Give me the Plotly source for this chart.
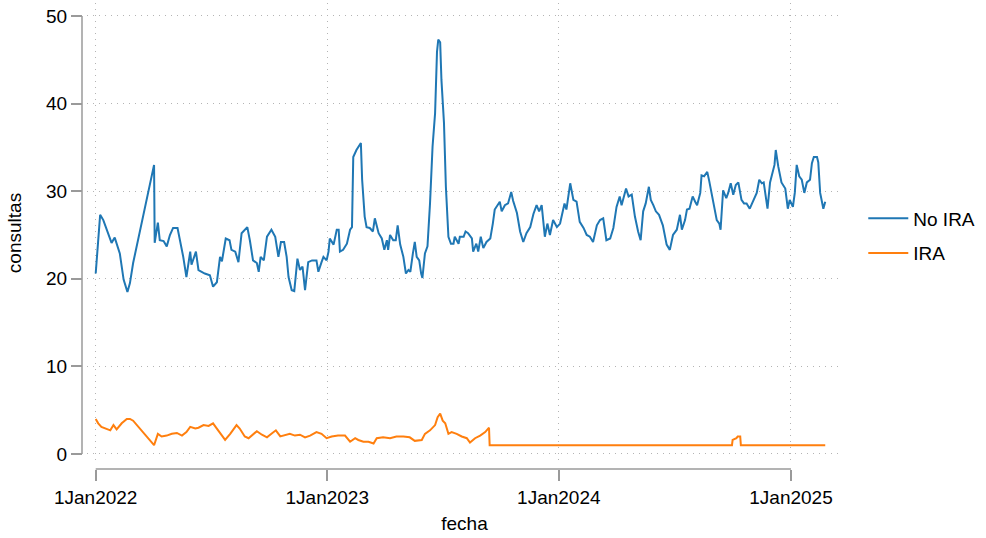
import plotly.graph_objects as go

# ---------------- data ----------------
no_ira_dates = [
    "2022-01-01", "2022-01-08", "2022-01-13", "2022-01-18", "2022-01-21", "2022-01-26", "2022-01-31",
    "2022-02-06", "2022-02-08", "2022-02-14", "2022-02-20", "2022-02-24",
    "2022-03-01",
    "2022-04-03", "2022-04-04", "2022-04-09", "2022-04-12", "2022-04-18", "2022-04-23", "2022-04-28",
    "2022-05-03", "2022-05-10", "2022-05-14", "2022-05-19", "2022-05-24", "2022-05-30",
    "2022-06-01", "2022-06-08", "2022-06-12", "2022-06-17", "2022-06-22", "2022-06-30",
    "2022-07-05", "2022-07-11", "2022-07-16", "2022-07-19", "2022-07-25", "2022-07-31",
    "2022-08-03", "2022-08-09", "2022-08-14", "2022-08-19", "2022-08-24", "2022-08-28",
    "2022-09-01", "2022-09-06", "2022-09-12", "2022-09-15", "2022-09-18", "2022-09-23", "2022-09-28",
    "2022-10-05", "2022-10-11", "2022-10-16", "2022-10-20", "2022-10-25", "2022-10-29",
    "2022-11-01", "2022-11-06", "2022-11-10", "2022-11-15", "2022-11-19", "2022-11-23", "2022-11-27",
    "2022-12-02", "2022-12-08", "2022-12-15", "2022-12-18", "2022-12-23", "2022-12-26", "2022-12-31",
    "2023-01-03", "2023-01-05", "2023-01-11", "2023-01-16", "2023-01-19", "2023-01-21", "2023-01-26",
    "2023-02-01", "2023-02-06", "2023-02-09", "2023-02-11", "2023-02-16", "2023-02-21", "2023-02-23", "2023-02-25",
    "2023-03-01", "2023-03-04", "2023-03-09", "2023-03-14", "2023-03-17", "2023-03-23", "2023-03-28",
    "2023-04-01", "2023-04-05", "2023-04-07", "2023-04-10", "2023-04-15", "2023-04-19", "2023-04-22", "2023-04-26",
    "2023-05-01", "2023-05-05", "2023-05-09", "2023-05-12", "2023-05-16", "2023-05-19", "2023-05-22", "2023-05-26", "2023-05-29", "2023-05-31",
    "2023-06-04", "2023-06-08", "2023-06-12", "2023-06-16", "2023-06-20", "2023-06-23", "2023-06-25", "2023-06-28", "2023-06-30",
    "2023-07-04", "2023-07-07", "2023-07-11", "2023-07-15", "2023-07-19", "2023-07-21", "2023-07-27", "2023-07-29",
    "2023-08-04", "2023-08-07", "2023-08-11", "2023-08-17", "2023-08-19", "2023-08-24", "2023-08-27", "2023-08-31",
    "2023-09-04", "2023-09-09", "2023-09-15", "2023-09-19", "2023-09-22", "2023-09-30",
    "2023-10-03", "2023-10-08", "2023-10-13", "2023-10-18", "2023-10-21", "2023-10-27",
    "2023-11-01", "2023-11-06", "2023-11-11", "2023-11-17", "2023-11-22", "2023-11-27",
    "2023-12-01", "2023-12-05", "2023-12-10", "2023-12-14", "2023-12-18", "2023-12-23", "2023-12-29",
    "2024-01-03", "2024-01-10", "2024-01-13", "2024-01-19", "2024-01-24", "2024-01-29",
    "2024-02-03", "2024-02-09", "2024-02-14", "2024-02-19", "2024-02-24",
    "2024-03-01", "2024-03-06", "2024-03-11", "2024-03-16", "2024-03-22", "2024-03-27",
    "2024-04-01", "2024-04-06", "2024-04-09", "2024-04-16", "2024-04-20", "2024-04-25", "2024-04-30",
    "2024-05-05", "2024-05-09", "2024-05-13", "2024-05-17", "2024-05-22", "2024-05-25", "2024-05-29",
    "2024-06-02", "2024-06-07", "2024-06-13", "2024-06-19", "2024-06-24", "2024-06-29",
    "2024-07-05", "2024-07-10", "2024-07-13", "2024-07-18", "2024-07-21", "2024-07-25", "2024-07-30",
    "2024-08-03", "2024-08-06", "2024-08-11", "2024-08-13", "2024-08-17", "2024-08-22", "2024-08-25", "2024-08-29",
    "2024-09-02", "2024-09-06", "2024-09-10", "2024-09-12", "2024-09-16", "2024-09-21", "2024-09-24", "2024-09-28",
    "2024-10-02", "2024-10-06", "2024-10-10", "2024-10-15", "2024-10-19", "2024-10-23", "2024-10-28",
    "2024-11-03", "2024-11-08", "2024-11-12", "2024-11-16", "2024-11-19", "2024-11-25", "2024-11-29",
    "2024-12-03", "2024-12-06", "2024-12-08", "2024-12-12", "2024-12-17", "2024-12-23", "2024-12-27", "2024-12-30",
    "2025-01-04", "2025-01-07", "2025-01-10", "2025-01-14", "2025-01-18", "2025-01-22", "2025-01-26", "2025-01-31",
    "2025-02-03", "2025-02-06", "2025-02-11", "2025-02-13", "2025-02-16", "2025-02-18", "2025-02-21", "2025-02-24",
]
no_ira_values = [
    20.6, 27.3, 26.7, 25.6, 25.0, 24.1, 24.7,
    23.3, 22.9, 19.9, 18.5, 19.5,
    21.8,
    33.0, 24.1, 26.4, 24.4, 24.3, 23.7, 25.0,
    25.8, 25.8, 24.4, 22.5, 20.2, 23.1,
    21.6, 23.1, 21.0, 20.8, 20.6, 20.4,
    19.1, 19.6, 22.5, 22.0, 24.6, 24.4,
    23.3, 23.1, 21.9, 25.2, 25.6, 25.9,
    24.4, 22.1, 21.8, 20.8, 22.5, 22.1, 24.8,
    25.6, 24.8, 22.5, 24.2, 24.2, 22.5,
    20.2, 18.7, 18.6, 22.3, 21.0, 21.4, 18.7,
    21.9, 22.1, 22.1, 20.8, 21.9, 22.5, 22.1,
    23.1, 24.6, 23.9, 25.6, 25.6, 23.1, 23.3,
    24.0, 25.6, 25.9, 33.9, 34.7, 35.3, 35.5, 31.3,
    27.1, 25.9, 25.8, 25.4, 26.9, 25.2, 24.6,
    23.3, 24.4, 23.3, 25.0, 24.4, 24.4, 26.1, 23.9,
    22.5, 20.6, 21.0, 20.8, 22.9, 24.2, 22.5, 22.1, 20.6, 20.1,
    22.9, 23.7, 28.6, 35.1, 38.9, 45.9, 47.3, 47.0, 42.7,
    37.8, 30.5, 24.8, 24.0, 24.0, 24.8, 24.0, 24.8,
    24.8, 25.4, 25.2, 24.6, 23.1, 24.0, 23.1, 24.8,
    23.5, 24.2, 24.6, 26.3, 27.9, 28.8,
    27.7, 28.4, 28.6, 29.9, 28.9, 27.5,
    25.4, 24.2, 25.2, 25.9, 27.4, 28.4,
    27.7, 28.4, 24.8, 26.3, 25.0, 26.7, 25.9,
    26.3, 28.6, 27.9, 30.9, 29.0, 28.8,
    26.5, 25.8, 25.0, 24.8, 24.2,
    26.1, 26.7, 26.9, 24.4, 24.6, 25.8,
    28.2, 29.4, 28.4, 30.3, 29.4, 29.6, 27.1,
    25.4, 24.4, 27.7, 28.6, 30.5, 29.0, 28.4,
    27.7, 27.3, 26.1, 23.9, 23.3, 25.0,
    25.6, 27.3, 25.6, 26.7, 27.9, 28.0, 29.4,
    28.8, 28.4, 29.8, 31.8, 31.7, 32.2, 31.2, 29.6,
    28.0, 26.7, 26.3, 25.6, 30.1, 29.2, 29.8, 30.9,
    29.6, 30.7, 31.0, 29.0, 28.6, 28.6, 28.0,
    29.0, 29.8, 31.3, 30.9, 31.0, 28.0, 31.0,
    32.0, 33.0, 34.7, 32.8, 31.0, 30.3, 28.0, 29.0,
    28.2, 29.8, 33.0, 31.7, 31.3, 29.8, 31.0, 31.3,
    33.2, 33.9, 33.9, 33.3, 29.8, 29.0, 28.0, 28.8,
]

ira_dates = [
    "2022-01-01", "2022-01-05", "2022-01-10", "2022-01-18", "2022-01-24", "2022-01-29",
    "2022-02-03", "2022-02-11", "2022-02-19", "2022-02-24",
    "2022-03-01",
    "2022-04-03", "2022-04-09", "2022-04-15", "2022-04-23",
    "2022-05-01", "2022-05-09", "2022-05-17", "2022-05-24", "2022-05-30",
    "2022-06-07", "2022-06-12", "2022-06-20", "2022-06-28",
    "2022-07-05", "2022-07-11", "2022-07-19", "2022-07-24",
    "2022-08-01", "2022-08-11", "2022-08-16", "2022-08-24", "2022-08-30",
    "2022-09-07", "2022-09-12", "2022-09-20", "2022-09-28",
    "2022-10-05", "2022-10-12", "2022-10-19", "2022-10-26",
    "2022-11-03", "2022-11-11", "2022-11-19", "2022-11-27",
    "2022-12-05", "2022-12-15", "2022-12-23", "2022-12-31",
    "2023-01-08", "2023-01-18", "2023-01-29",
    "2023-02-06", "2023-02-14", "2023-02-19", "2023-02-27",
    "2023-03-07", "2023-03-15", "2023-03-20", "2023-03-30",
    "2023-04-10", "2023-04-20",
    "2023-05-01", "2023-05-11", "2023-05-19", "2023-05-30",
    "2023-06-04", "2023-06-12", "2023-06-20", "2023-06-24", "2023-06-28",
    "2023-07-02", "2023-07-06", "2023-07-11", "2023-07-16", "2023-07-24",
    "2023-08-01", "2023-08-09", "2023-08-14", "2023-08-22", "2023-08-30",
    "2023-09-07", "2023-09-13", "2023-09-14",
    "2024-09-30",
    "2024-10-01", "2024-10-07", "2024-10-09", "2024-10-13", "2024-10-14",
    "2025-02-24",
]
ira_values = [
    4.0, 3.5, 3.1, 2.9, 2.7, 3.3,
    2.8, 3.5, 4.0, 4.0,
    3.8,
    1.0, 2.3, 2.0, 2.1,
    2.3, 2.4, 2.1, 2.5, 3.1,
    2.9, 3.0, 3.3, 3.2,
    3.5, 2.9, 2.1, 1.6,
    2.3, 3.3, 2.9, 2.0, 1.8,
    2.3, 2.6, 2.2, 1.9,
    2.3, 2.7, 2.0, 2.1,
    2.3, 2.1, 2.2, 1.9,
    2.1, 2.5, 2.3, 1.8,
    2.0, 2.1, 2.1,
    1.4, 1.8, 1.6, 1.4,
    1.4, 1.2, 1.8, 1.9,
    1.8, 2.0,
    2.0, 1.9, 1.5, 1.6,
    2.3, 2.7, 3.3, 4.2, 4.6,
    3.8, 3.5, 2.3, 2.5, 2.3,
    2.0, 1.8, 1.3, 1.8, 2.1,
    2.5, 3.0, 1.0,
    1.0,
    1.6, 1.8, 2.0, 2.0, 1.0,
    1.0,
]

series_names = ["No IRA", "IRA"]
y_tick_values = [0, 10, 20, 30, 40, 50]
x_tick_dates = ["2022-01-01", "2023-01-01", "2024-01-01", "2025-01-01"]
x_tick_labels = ["1Jan2022", "1Jan2023", "1Jan2024", "1Jan2025"]

# ---------------- styling ----------------
BLUE = "#1f77b4"
ORANGE = "#ff7f0e"
AXIS = "#9a9a9a"
GRID = "#b4b4b4"
FONT = "Liberation Sans, Arial, Helvetica, sans-serif"
FS = 19

W, H = 986, 538
ML, MR, MT, MB = 82, 144, 3, 69
plot_w = W - ML - MR
plot_h = H - MT - MB

fig = go.Figure()
fig.add_trace(go.Scatter(x=no_ira_dates, y=no_ira_values, mode="lines", name=series_names[0],
                         line=dict(color=BLUE, width=2), legendgroup="g1"))
fig.add_trace(go.Scatter(x=ira_dates, y=ira_values, mode="lines", name=series_names[1],
                         line=dict(color=ORANGE, width=2), legendgroup="g2"))

fig.update_layout(
    width=W, height=H,
    margin=dict(l=ML, r=MR, t=MT, b=MB),
    paper_bgcolor="white", plot_bgcolor="white",
    font=dict(family=FONT, size=FS, color="black"),
    showlegend=True,
    legend=dict(x=1.028, y=0.5, xanchor="left", yanchor="middle",
                tracegroupgap=7, font=dict(family=FONT, size=FS, color="black"),
                bgcolor="rgba(0,0,0,0)", itemwidth=40),
)

fig.update_xaxes(
    type="date",
    domain=[5 / plot_w, 1],
    range=["2021-12-18 07:00", "2025-03-22 10:00"],
    anchor="free", position=0,
    tickmode="array", tickvals=x_tick_dates, ticktext=x_tick_labels,
    ticks="outside", ticklen=11, tickwidth=1.5, tickcolor=AXIS,
    tickfont=dict(family=FONT, size=FS, color="black"),
    showline=False, zeroline=False,
    showgrid=True, gridcolor=GRID, gridwidth=1, griddash="1px,5px",
    title=dict(text="fecha", standoff=9, font=dict(family=FONT, size=FS, color="black")),
)
fig.update_yaxes(
    domain=[6 / plot_h, 1],
    range=[-1.03, 51.48],
    anchor="free", position=0,
    tickmode="array", tickvals=y_tick_values,
    ticks="outside", ticklen=11, tickwidth=1.5, tickcolor=AXIS,
    tickfont=dict(family=FONT, size=FS, color="black"),
    showline=False, zeroline=False,
    showgrid=True, gridcolor=GRID, gridwidth=1, griddash="1px,5px",
    title=dict(text="consultas", standoff=18, font=dict(family=FONT, size=FS, color="black")),
)

# Stata-style axis lines that only span the tick range
fig.add_shape(type="line", xref="paper", yref="y", x0=0, x1=0,
              y0=y_tick_values[0], y1=y_tick_values[-1], line=dict(color=AXIS, width=1.5))
fig.add_shape(type="line", xref="x", yref="paper", x0=x_tick_dates[0], x1=x_tick_dates[-1],
              y0=0, y1=0, line=dict(color=AXIS, width=1.5))

fig.write_html("out.html", config={"displayModeBar": False},
               post_script="document.body.style.margin='0';")
